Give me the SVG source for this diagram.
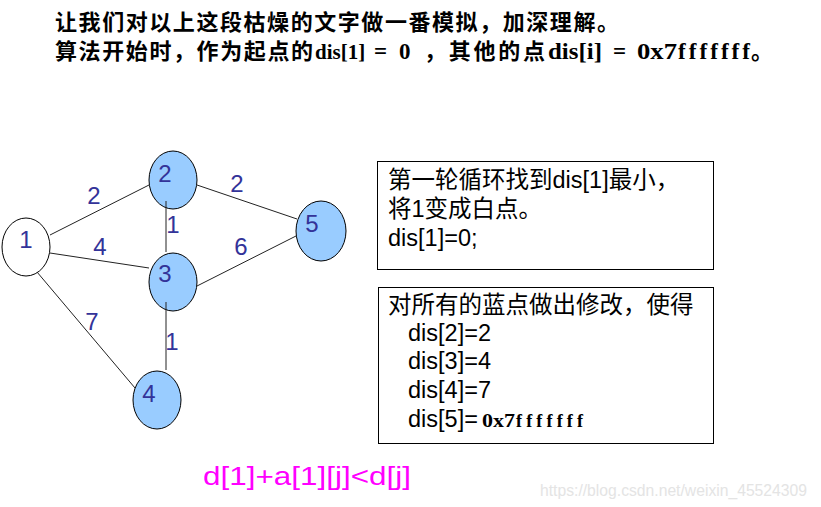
<svg xmlns="http://www.w3.org/2000/svg" width="821" height="507" viewBox="0 0 821 507">
<style>
.hd{font-family:"Noto Sans CJK SC",sans-serif;font-weight:bold;font-size:22px;fill:#000}
.hl{font-family:"Liberation Serif",serif;font-weight:bold;font-size:23px;fill:#000}
.node{stroke:#000;stroke-width:1}
.blue{fill:#99ccff}
.white{fill:#fff}
.lbl{font-family:"Liberation Sans",Arial,sans-serif;font-size:24px;fill:#333399;text-anchor:middle}
.edge{stroke:#222;stroke-width:1;fill:none}
.box{fill:#fff;stroke:#000;stroke-width:1}
.bt{font-family:"Liberation Sans","Noto Sans CJK SC",sans-serif;font-size:23.5px;fill:#000}
.bs{font-family:"Liberation Serif",serif;font-weight:bold;font-size:18px;fill:#000}
.mag{font-family:"Liberation Sans",sans-serif;font-size:26px;fill:#ff00ff}
.wm{font-family:"Liberation Sans",sans-serif;font-size:16px;fill:#e4e4e4}
</style>
<rect width="821" height="507" fill="#fff"/>
<g id="header">
<text class="hd" x="55" y="30" textLength="564" lengthAdjust="spacing">让我们对以上这段枯燥的文字做一番模拟，加深理解。</text>
<text class="hd" x="55" y="59" textLength="258" lengthAdjust="spacing">算法开始时，作为起点的</text>
<text class="hl" x="315" y="59" style="font-size:21px">dis[1]</text>
<text class="hl" x="374" y="59">=</text>
<text class="hl" x="399" y="59">0</text>
<text class="hd" x="424" y="59" textLength="121" lengthAdjust="spacing">，其他的点</text>
<text class="hl" x="548" y="59" textLength="54" lengthAdjust="spacingAndGlyphs">dis[i]</text>
<text class="hl" x="613" y="59">=</text>
<text class="hl" x="637" y="59" textLength="40" lengthAdjust="spacingAndGlyphs">0x7</text>
<text class="hl" x="678" y="59" textLength="72" lengthAdjust="spacing">fffffff</text>
<text class="hd" x="751" y="59">。</text>
</g>
<g id="node1"><ellipse class="node white" cx="26" cy="247" rx="24" ry="29"/><text class="lbl" x="26" y="248">1</text></g>
<g id="node2"><ellipse class="node blue" cx="173" cy="180" rx="24" ry="29"/><text class="lbl" x="165" y="182">2</text></g>
<g id="node3"><ellipse class="node blue" cx="173" cy="282" rx="24" ry="29"/><text class="lbl" x="165" y="282">3</text></g>
<g id="node4"><ellipse class="node blue" cx="157" cy="400" rx="24" ry="29"/><text class="lbl" x="149" y="402">4</text></g>
<g id="node5"><ellipse class="node blue" cx="321" cy="231" rx="25" ry="30"/><text class="lbl" x="312" y="232">5</text></g>
<g id="connectors">
<line class="edge" x1="50" y1="235" x2="149" y2="185"/>
<line class="edge" x1="50" y1="253" x2="149" y2="268"/>
<line class="edge" x1="37" y1="272" x2="135" y2="388"/>
<line class="edge" x1="166" y1="201" x2="166" y2="252"/>
<line class="edge" x1="166" y1="302" x2="166" y2="370"/>
<line class="edge" x1="197" y1="185" x2="297" y2="219"/>
<line class="edge" x1="197" y1="286" x2="296" y2="236"/>
<text class="lbl" x="94" y="204">2</text>
<text class="lbl" x="100" y="255">4</text>
<text class="lbl" x="92" y="330">7</text>
<text class="lbl" x="173" y="233">1</text>
<text class="lbl" x="172" y="350">1</text>
<text class="lbl" x="237" y="192">2</text>
<text class="lbl" x="241" y="255">6</text>
</g>
<g id="box1">
<rect class="box" x="377.5" y="161.5" width="336" height="108"/>
<text class="bt" x="388" y="188">第一轮循环找到dis[1]最小，</text>
<text class="bt" x="388" y="217">将1变成白点。</text>
<text class="bt" x="388" y="246">dis[1]=0;</text>
</g>
<g id="box2">
<rect class="box" x="378.5" y="287.5" width="335" height="156"/>
<text class="bt" x="388" y="313">对所有的蓝点做出修改，使得</text>
<text class="bt" x="408" y="341">dis[2]=2</text>
<text class="bt" x="408" y="369">dis[3]=4</text>
<text class="bt" x="408" y="398">dis[4]=7</text>
<text class="bt" x="408" y="427">dis[5]=</text>
<text class="bs" x="482" y="427" textLength="33" lengthAdjust="spacingAndGlyphs">0x7</text>
<text class="bs" x="516" y="427" textLength="67" lengthAdjust="spacing">fffffff</text>
</g>
<text class="mag" x="203" y="485" textLength="208" lengthAdjust="spacingAndGlyphs">d[1]+a[1][j]&lt;d[j]</text>
<text class="wm" x="540" y="496" textLength="267" lengthAdjust="spacingAndGlyphs">https://blog.csdn.net/weixin_45524309</text>
</svg>
